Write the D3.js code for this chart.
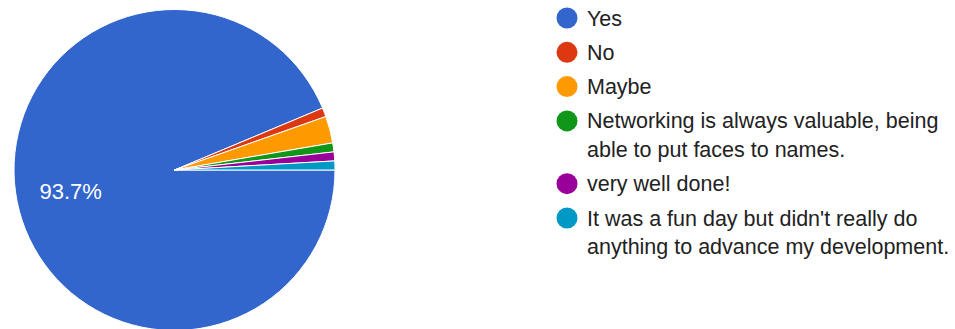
<!DOCTYPE html>
<html>
<head>
<meta charset="utf-8">
<script src="https://cdn.jsdelivr.net/npm/d3@7"></script>
<style>
  html, body { margin: 0; padding: 0; background: #fff; }
  svg { display: block; font-family: Arial, "Liberation Sans", sans-serif; }
</style>
</head>
<body>
<svg id="chart" width="955" height="329"></svg>
<script>
// Survey answers and response counts
const categories = [
  "Yes",
  "No",
  "Maybe",
  "Networking is always valuable, being able to put faces to names.",
  "very well done!",
  "It was a fun day but didn't really do anything to advance my development."
];
const counts = [104, 1, 3, 1, 1, 1];
const colors = ["#3366cc", "#dc3912", "#ff9900", "#109618", "#990099", "#0099c6"];

const svg = d3.select("#chart");
const cx = 174.5, cy = 170, radius = 160.5;

const data = categories.map((c, i) => ({ label: c, value: counts[i], color: colors[i] }));
const total = d3.sum(counts);

const pie = d3.pie()
  .value(d => d.value)
  .sort(null)
  .startAngle(Math.PI / 2)
  .endAngle(Math.PI / 2 + 2 * Math.PI);

const arc = d3.arc().innerRadius(0).outerRadius(radius);
const labelArc = d3.arc().innerRadius(radius * 0.66).outerRadius(radius * 0.66);

const g = svg.append("g").attr("transform", `translate(${cx},${cy})`);
const arcs = pie(data);

g.selectAll("path.slice")
  .data(arcs)
  .join("path")
  .attr("class", "slice")
  .attr("d", arc)
  .attr("fill", d => d.data.color)
  .attr("stroke", "#fff")
  .attr("stroke-width", 1);

// Percentage label only on slices big enough to hold it
g.selectAll("text.pct")
  .data(arcs.filter(d => d.data.value / total > 0.05))
  .join("text")
  .attr("class", "pct")
  .attr("transform", d => `translate(${labelArc.centroid(d)})`)
  .attr("text-anchor", "middle")
  .attr("dy", "0.35em")
  .attr("fill", "#fff")
  .attr("font-size", 22)
  .text(d => (d.data.value / total * 100).toFixed(1) + "%");

// Legend with wrapped labels
const legendX = 567, textX = 587, maxWidth = 370, lineH = 28.5, gap = 34.3;
const legend = svg.append("g");
let y = 18;
data.forEach(d => {
  const item = legend.append("g");
  item.append("circle").attr("cx", legendX).attr("cy", y).attr("r", 10.5).attr("fill", d.color);
  const text = item.append("text")
    .attr("x", textX).attr("y", y).attr("dy", "0.35em")
    .attr("fill", "#222").attr("font-size", 21.5);
  const words = d.label.split(" ");
  let line = [];
  let tspan = text.append("tspan").attr("x", textX);
  let nLines = 1;
  words.forEach(w => {
    line.push(w);
    tspan.text(line.join(" "));
    if (tspan.node().getComputedTextLength() > maxWidth && line.length > 1) {
      line.pop();
      tspan.text(line.join(" "));
      line = [w];
      tspan = text.append("tspan").attr("x", textX).attr("dy", lineH).text(w);
      nLines++;
    }
  });
  y += gap + (nLines - 1) * lineH;
});
</script>
</body>
</html>
